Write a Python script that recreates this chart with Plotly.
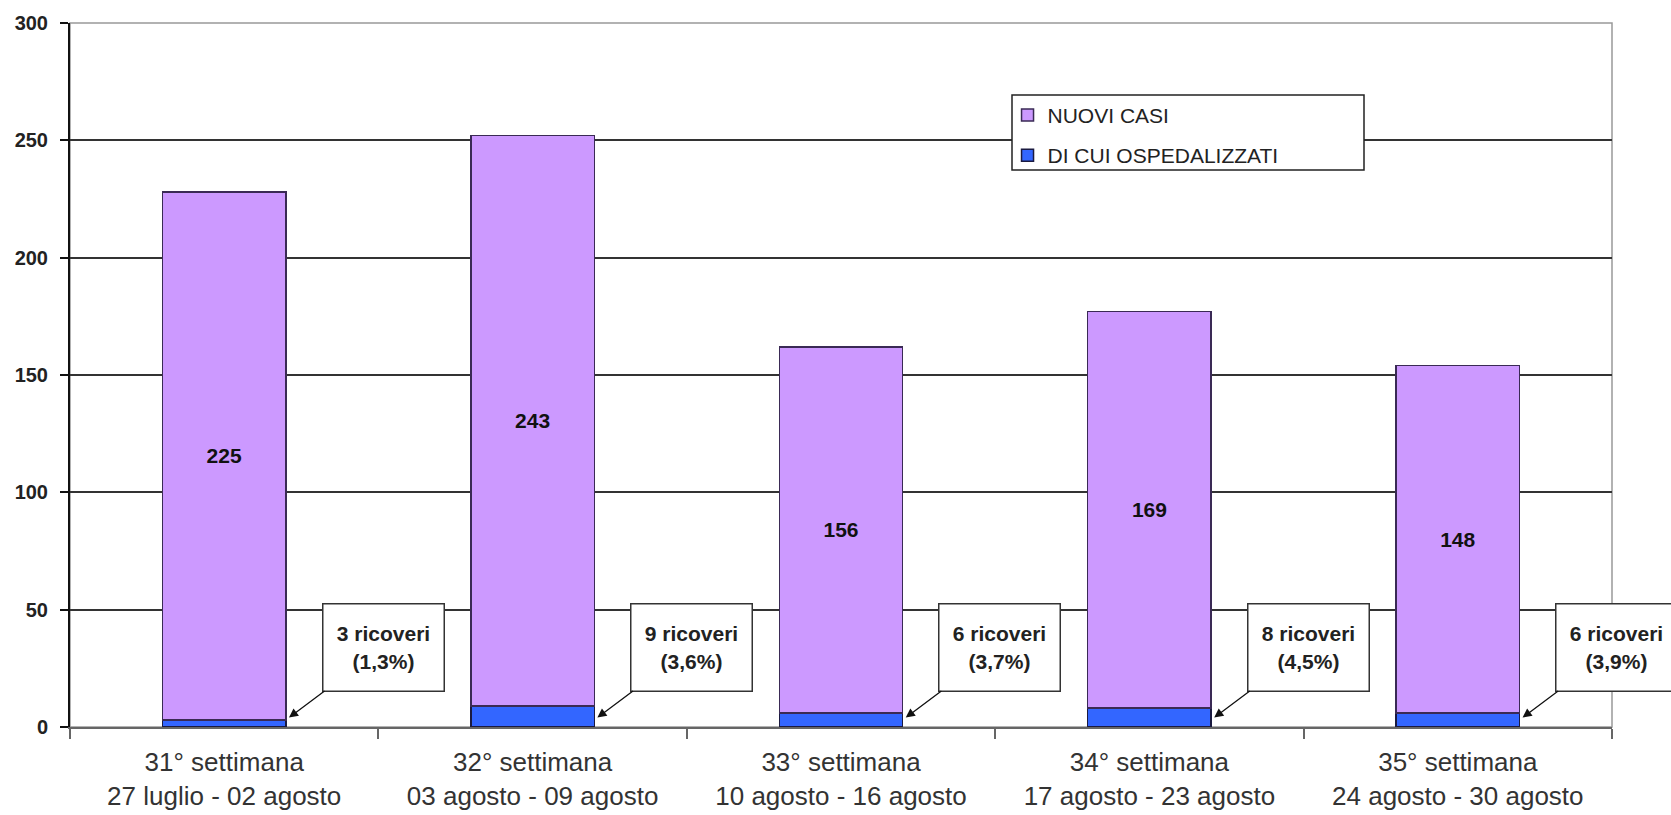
import plotly.graph_objects as go

categories = [
    "31° settimana<br>27 luglio - 02 agosto",
    "32° settimana<br>03 agosto - 09 agosto",
    "33° settimana<br>10 agosto - 16 agosto",
    "34° settimana<br>17 agosto - 23 agosto",
    "35° settimana<br>24 agosto - 30 agosto",
]
nuovi_casi = [225, 243, 156, 169, 148]
ospedalizzati = [3, 9, 6, 8, 6]
percentuali = ["1,3%", "3,6%", "3,7%", "4,5%", "3,9%"]
y_ticks = [0, 50, 100, 150, 200, 250, 300]

FONT = "Arial, Liberation Sans, sans-serif"
PURPLE = "#CC99FF"
BLUE = "#3366FF"

fig = go.Figure()
fig.add_trace(go.Bar(
    x=categories, y=ospedalizzati, name="DI CUI OSPEDALIZZATI",
    marker=dict(color=BLUE, line=dict(color="#1a1a40", width=1.5)),
    legendgroup="b", legendrank=2, hoverinfo="skip",
))
fig.add_trace(go.Bar(
    x=categories, y=nuovi_casi, name="NUOVI CASI",
    marker=dict(color=PURPLE, line=dict(color="#3a2a55", width=1.5)),
    text=[f"<b>{v}</b>" for v in nuovi_casi],
    textposition="inside", insidetextanchor="middle",
    textfont=dict(family=FONT, size=21, color="#111"),
    legendgroup="a", legendrank=1, hoverinfo="skip",
))

annotations = []
for i, (h, p) in enumerate(zip(ospedalizzati, percentuali)):
    annotations.append(dict(
        x=i + 0.21, y=4, xref="x", yref="y",
        ax=i + 0.515, ay=34, axref="x", ayref="y",
        text=f"<b>{h} ricoveri<br>({p})</b>",
        showarrow=True, arrowhead=2, arrowsize=1.4, arrowwidth=1.3,
        arrowcolor="#111",
        font=dict(family=FONT, size=21, color="#222"),
        bgcolor="white", bordercolor="#333", borderwidth=1.5,
        width=118, height=84, align="center", valign="middle",
    ))

lx0, lx1 = (1012 - 70) / 1542, (1364 - 70) / 1542
ly0, ly1 = (727 - 170) / 704, (727 - 95) / 704

fig.update_layout(
    width=1671, height=815,
    margin=dict(l=70, r=59, t=23, b=88),
    paper_bgcolor="white", plot_bgcolor="white",
    barmode="stack", bargap=0.6,
    font=dict(family=FONT, color="#222"),
    showlegend=True,
    legend=dict(
        x=0.608, y=0.898, xanchor="left", yanchor="top",
        bgcolor="rgba(0,0,0,0)", borderwidth=0,
        font=dict(family=FONT, size=21, color="#222"),
        traceorder="grouped", tracegroupgap=10,
        itemwidth=30,
    ),
    annotations=annotations,
    shapes=[
        dict(type="rect", xref="paper", yref="paper", x0=0, x1=1, y0=0, y1=1,
             line=dict(color="#999", width=1.5), layer="below"),
        dict(type="rect", xref="paper", yref="paper", x0=lx0, x1=lx1, y0=ly0, y1=ly1,
             line=dict(color="#222", width=1.5), fillcolor="white", layer="above"),
    ],
    xaxis=dict(
        type="category", tickson="boundaries", range=[-0.5, 4.5],
        automargin=False,
        showgrid=False, showline=True, linecolor="#666", linewidth=1.5,
        ticks="outside", ticklen=10, tickcolor="#666", tickwidth=1.5,
        tickfont=dict(family=FONT, size=26, color="#333"),
        ticklabelstandoff=11,
    ),
    yaxis=dict(
        range=[0, 300], tickvals=y_ticks, automargin=False,
        showgrid=True, gridcolor="#333", gridwidth=1.5,
        showline=True, linecolor="#111", linewidth=2,
        ticks="outside", ticklen=8, tickcolor="#111", tickwidth=2,
        tickfont=dict(family=FONT, size=20, color="#222", weight="bold"),
        ticklabelstandoff=8,
        zeroline=False,
    ),
)

fig.write_html("out.html")
